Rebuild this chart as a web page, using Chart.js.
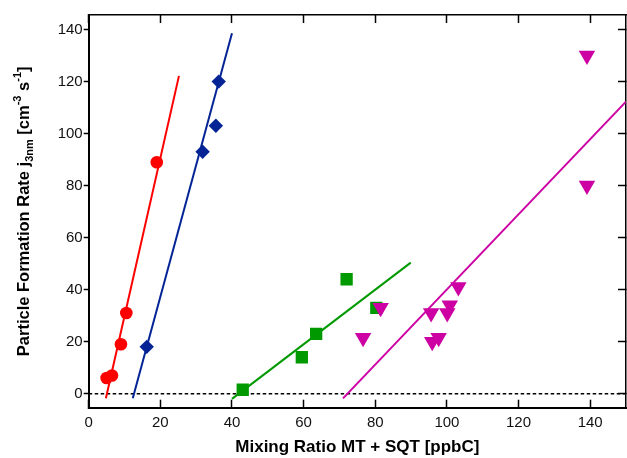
<!DOCTYPE html>
<html>
<head>
<meta charset="utf-8">
<script src="https://cdn.jsdelivr.net/npm/chart.js@4.4.0/dist/chart.umd.min.js"></script>
<style>
  body { margin: 0; background: #fff; }
  #wrap { width: 627px; height: 458px; }
</style>
</head>
<body>
<div id="wrap"><canvas id="chart_jrate" width="627" height="458"></canvas></div>
<script>
//---------------DATOS-----------
// red circles
const redX = [5, 6.5, 9, 10.5, 19];
const redY = [6, 7, 19, 31, 89];
// blue diamonds
const blueX = [16.2, 31.8, 35.5, 36.3];
const blueY = [18, 93, 103, 120];
// green squares
const greenX = [43, 59.5, 63.5, 72, 80.3];
const greenY = [1.5, 14, 23, 44, 33];
// magenta triangles
const magX = [76.6, 81.5, 95.6, 95.9, 97.7, 100.1, 100.8, 103.2, 139.1, 139.1];
const magY = [21.5, 33, 31, 20, 21.5, 31, 34, 41, 130, 80];

// fit lines (end points)
const redFitX = [4.8, 25.2];
const redFitY = [-1.8, 122.2];
const blueFitX = [12.3, 40.0];
const blueFitY = [-1.8, 138.6];
const greenFitX = [40.0, 89.9];
const greenFitY = [-2, 50.4];
const magFitX = [71.0, 150];
const magFitY = [-1.8, 112.3];

// zero line
const zeroX = [0, 150];
const zeroY = [0, 0];

const xTicks = [0, 20, 40, 60, 80, 100, 120, 140];
const yTicks = [0, 20, 40, 60, 80, 100, 120, 140];

const RED = 'rgb(255, 0, 0)';
const BLUE = 'rgb(4, 36, 150)';
const GREEN = 'rgb(0, 153, 0)';
const MAG = 'rgb(204, 0, 163)';

function pts(xs, ys) {
  return xs.map((x, i) => ({x: x, y: ys[i]}));
}

function scatterSet(xs, ys, color, style, r, order, rot) {
  return {
    type: 'scatter',
    data: pts(xs, ys),
    backgroundColor: color,
    borderColor: color,
    pointStyle: style,
    pointRadius: r,
    pointBorderWidth: 0,
    pointRotation: rot || 0,
    showLine: false,
    order: order
  };
}

function lineSet(xs, ys, color, order, dash, w) {
  return {
    type: 'scatter',
    data: pts(xs, ys),
    borderColor: color,
    backgroundColor: color,
    borderWidth: w || 2,
    borderDash: dash || [],
    pointRadius: 0,
    showLine: true,
    fill: false,
    order: order
  };
}

//---------------TITULO EJE Y (con sub/superindices)-----------
const yTitlePlugin = {
  id: 'yTitle',
  afterDraw(chart) {
    const ctx = chart.ctx;
    const fam = "'Liberation Sans', Arial, sans-serif";
    const parts = [
      {t: 'Particle Formation Rate j', s: 16.5, dy: 0},
      {t: '3nm', s: 11, dy: 4},
      {t: ' [cm', s: 16.5, dy: 0},
      {t: '-3', s: 11, dy: -8},
      {t: ' s', s: 16.5, dy: 0},
      {t: '-1', s: 11, dy: -8},
      {t: ']', s: 16.5, dy: 0}
    ];
    ctx.save();
    let total = 0;
    parts.forEach(p => {
      ctx.font = 'bold ' + p.s + 'px ' + fam;
      p.w = ctx.measureText(p.t).width;
      total += p.w;
    });
    const ca = chart.chartArea;
    const cy = (ca.top + ca.bottom) / 2;
    ctx.translate(28.5, cy + total / 2);
    ctx.rotate(-Math.PI / 2);
    ctx.fillStyle = '#000';
    ctx.textBaseline = 'alphabetic';
    ctx.textAlign = 'left';
    let x = 0;
    parts.forEach(p => {
      ctx.font = 'bold ' + p.s + 'px ' + fam;
      ctx.fillText(p.t, x, p.dy);
      x += p.w;
    });
    ctx.restore();
  }
};

const tickFont = {family: "'Liberation Sans', Arial, sans-serif", size: 15};

function keepTicks(list) {
  return function (scale) {
    scale.ticks = list.map(v => ({value: v}));
  };
}

function fixH(h) {
  return function (s) {
    s.height = h;
    s.paddingLeft = 0;
    s.paddingRight = 0;
  };
}

function fixW(w) {
  return function (s) {
    s.width = w;
    s.paddingTop = 0;
    s.paddingBottom = 0;
  };
}

const ctx_j = document.getElementById('chart_jrate').getContext('2d');

const chart_jrate = new Chart(ctx_j, {
  type: 'scatter',
  data: {
    datasets: [
      lineSet(zeroX, zeroY, '#000', 20, [3.5, 2.5], 1.5),
      lineSet(redFitX, redFitY, RED, 10),
      lineSet(blueFitX, blueFitY, BLUE, 10),
      lineSet(greenFitX, greenFitY, GREEN, 10),
      lineSet(magFitX, magFitY, MAG, 10),
      scatterSet(redX, redY, RED, 'circle', 6.3, 2),
      scatterSet(blueX, blueY, BLUE, 'rectRot', 7.2, 2),
      scatterSet(greenX, greenY, GREEN, 'rect', 8.7, 3),
      scatterSet(magX, magY, MAG, 'triangle', 9.5, 1, 180)
    ]
  },
  options: {
    responsive: false,
    animation: false,
    events: [],
    layout: {padding: 0, autoPadding: false},
    plugins: {
      legend: {display: false},
      tooltip: {enabled: false}
    },
    scales: {
      x: {
        type: 'linear',
        position: 'bottom',
        min: 0,
        max: 150,
        afterBuildTicks: keepTicks(xTicks),
        afterFit: fixH(50.3),
        border: {display: true, color: '#000', width: 2},
        grid: {drawOnChartArea: false, drawTicks: true, tickLength: -8, tickColor: '#000', tickWidth: 1.5},
        ticks: {font: tickFont, color: '#111', padding: 14, maxRotation: 0},
        title: {
          display: true,
          text: 'Mixing Ratio MT + SQT [ppbC]',
          color: '#000',
          font: {family: "'Liberation Sans', Arial, sans-serif", size: 17, weight: 'bold'},
          padding: {top: 0, bottom: 0}
        }
      },
      x2: {
        type: 'linear',
        position: 'top',
        min: 0,
        max: 150,
        afterBuildTicks: keepTicks(xTicks),
        afterFit: fixH(15),
        border: {display: true, color: '#000', width: 1.5},
        grid: {drawOnChartArea: false, drawTicks: true, tickLength: -8, tickColor: '#000', tickWidth: 1.5},
        ticks: {display: false}
      },
      y: {
        type: 'linear',
        position: 'left',
        min: -5.4,
        max: 145.6,
        afterBuildTicks: keepTicks(yTicks),
        afterFit: fixW(88.7),
        border: {display: true, color: '#000', width: 2},
        grid: {drawOnChartArea: false, drawTicks: true, tickLength: 5, tickColor: '#000', tickWidth: 1.5},
        ticks: {font: tickFont, color: '#111', padding: 1}
      },
      y2: {
        type: 'linear',
        position: 'right',
        min: -5.4,
        max: 145.6,
        afterBuildTicks: keepTicks(yTicks),
        afterFit: fixW(1),
        border: {display: true, color: '#000', width: 1.5},
        grid: {drawOnChartArea: false, drawTicks: true, tickLength: -8, tickColor: '#000', tickWidth: 1.5},
        ticks: {display: false}
      }
    }
  },
  plugins: [yTitlePlugin]
});
</script>
</body>
</html>
